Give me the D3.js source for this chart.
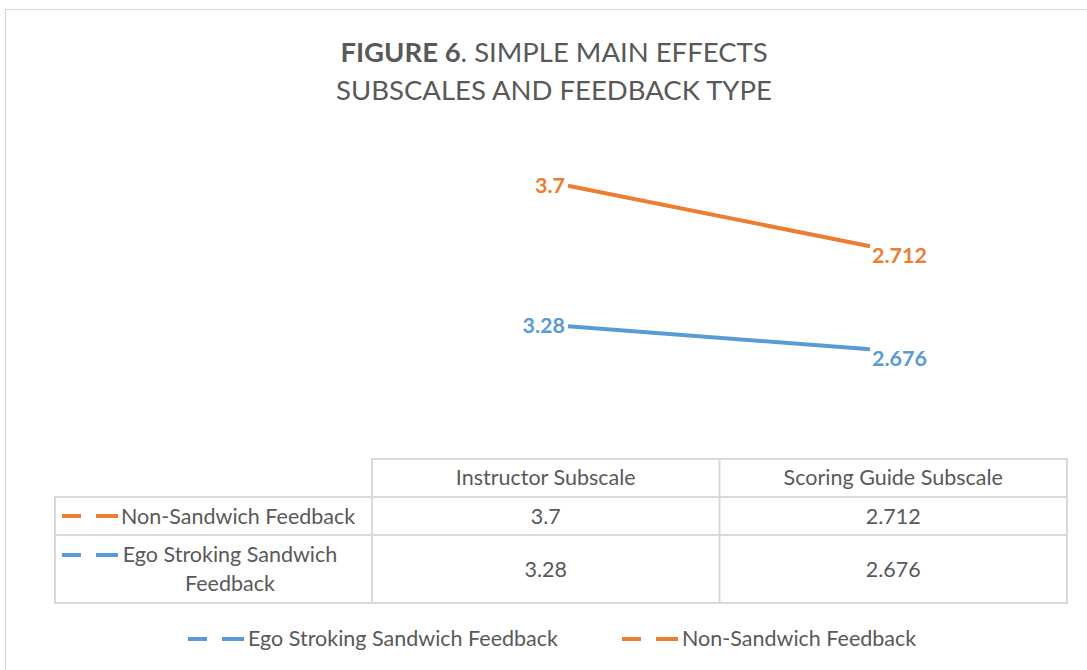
<!DOCTYPE html>
<html lang="en">
<head>
    <meta charset="UTF-8">
    <title>Figure 6 - Simple Main Effects</title>
    <script src="https://cdn.jsdelivr.net/npm/d3@7"></script>
    <style>
        body { margin: 0; background: #fff; }
        text { font-family: Lato, "Open Sans", sans-serif; }
    </style>
</head>
<body>
<script>

    // data
    var categories = ["Instructor Subscale", "Scoring Guide Subscale"];
    var seriesNames = ["Ego Stroking Sandwich Feedback", "Non-Sandwich Feedback"];
    var egoValues = [3.28, 2.676];
    var nonValues = [3.7, 2.712];
    var seriesColors = ["#5B9BD5", "#ED7D31"];

    var W = 1087, H = 670;
    var svg = d3.select("body").append("svg").attr("width", W).attr("height", H);

    // chart border (runs off the right / bottom)
    svg.append("rect").attr("x", 5.5).attr("y", 9.5).attr("width", 1100).attr("height", 700)
        .attr("fill", "none").attr("stroke", "#D9D9D9").attr("stroke-width", 1.2);

    // title
    var title = svg.append("text").attr("text-anchor", "middle").attr("fill", "#595959").attr("font-size", 27.5);
    var t1 = title.append("tspan").attr("x", 554).attr("y", 62);
    t1.append("tspan").attr("font-weight", "bold").text("FIGURE 6");
    t1.append("tspan").text(". SIMPLE MAIN EFFECTS");
    title.append("tspan").attr("x", 554).attr("y", 100).text("SUBSCALES AND FEEDBACK TYPE");

    // stacked line
    var rows = categories.map(function (c, i) {
        return {cat: c, ego: egoValues[i], non: nonValues[i]};
    });
    var stacked = d3.stack().keys(["ego", "non"])(rows);

    var x = d3.scalePoint().domain(categories).range([568, 870]);
    var y = d3.scaleLinear().domain([0, 8]).range([451, 147]);

    var line = d3.line()
        .x(function (d) { return x(d.data.cat); })
        .y(function (d) { return y(d[1]); });

    svg.selectAll(".series").data(stacked).enter().append("path").attr("class", "series")
        .attr("d", line)
        .attr("fill", "none")
        .attr("stroke", function (d, i) { return seriesColors[i]; })
        .attr("stroke-width", 4)
        .attr("stroke-linecap", "butt");

    // data labels
    stacked.forEach(function (s, si) {
        var vals = si == 0 ? egoValues : nonValues;
        s.forEach(function (d, i) {
            var lbl = svg.append("text")
                .attr("fill", seriesColors[si])
                .attr("font-size", 21.5)
                .attr("font-weight", "bold")
                .text(vals[i]);
            if (i == 0) {
                lbl.attr("text-anchor", "end").attr("x", x(d.data.cat) - 3).attr("y", y(d[1]) + 7);
            } else {
                lbl.attr("text-anchor", "start").attr("x", x(d.data.cat) + 2).attr("y", y(d[1]) + 17);
            }
        });
    });

    // data table
    var tableLeft = 55, labelRight = 372, tableRight = 1067;
    var col = d3.scaleBand().domain(categories).range([labelRight, tableRight]);
    var rowY = [459, 497, 535, 603];
    var grid = "#D9D9D9";
    var g = svg.append("g").attr("stroke", grid).attr("stroke-width", 2).attr("fill", "none");

    g.append("rect").attr("x", labelRight).attr("y", rowY[0]).attr("width", tableRight - labelRight).attr("height", rowY[1] - rowY[0]);
    g.append("rect").attr("x", tableLeft).attr("y", rowY[1]).attr("width", tableRight - tableLeft).attr("height", rowY[3] - rowY[1]);
    g.append("line").attr("x1", tableLeft).attr("x2", tableRight).attr("y1", rowY[2]).attr("y2", rowY[2]);
    categories.forEach(function (c) {
        g.append("line").attr("x1", col(c)).attr("x2", col(c)).attr("y1", rowY[0]).attr("y2", rowY[3]);
    });

    var txt = "#595959";
    var fs = 21.5;
    categories.forEach(function (c, i) {
        svg.append("text").attr("x", col(c) + col.bandwidth() / 2).attr("y", 485)
            .attr("text-anchor", "middle").attr("fill", txt).attr("font-size", fs).text(c);
        svg.append("text").attr("x", col(c) + col.bandwidth() / 2).attr("y", 524)
            .attr("text-anchor", "middle").attr("fill", txt).attr("font-size", fs).text(nonValues[i]);
        svg.append("text").attr("x", col(c) + col.bandwidth() / 2).attr("y", 577)
            .attr("text-anchor", "middle").attr("fill", txt).attr("font-size", fs).text(egoValues[i]);
    });

    function legendKey(parent, x0, yy, color) {
        parent.append("line").attr("x1", x0).attr("x2", x0 + 56).attr("y1", yy).attr("y2", yy)
            .attr("stroke", color).attr("stroke-width", 4)
            .attr("stroke-dasharray", "19,15,22");
    }

    // row labels
    legendKey(svg, 62, 516, seriesColors[1]);
    svg.append("text").attr("x", 121).attr("y", 524).attr("fill", txt).attr("font-size", fs).text(seriesNames[1]);
    legendKey(svg, 62, 555, seriesColors[0]);
    var rl = svg.append("text").attr("text-anchor", "middle").attr("fill", txt).attr("font-size", fs);
    rl.append("tspan").attr("x", 230).attr("y", 562).text("Ego Stroking Sandwich");
    rl.append("tspan").attr("x", 230).attr("y", 591).text("Feedback");

    // bottom legend
    var legX = [188, 622];
    seriesNames.forEach(function (n, i) {
        legendKey(svg, legX[i], 639, seriesColors[i]);
        svg.append("text").attr("x", legX[i] + 60).attr("y", 646).attr("fill", txt).attr("font-size", fs).text(n);
    });

</script>
</body>
</html>
